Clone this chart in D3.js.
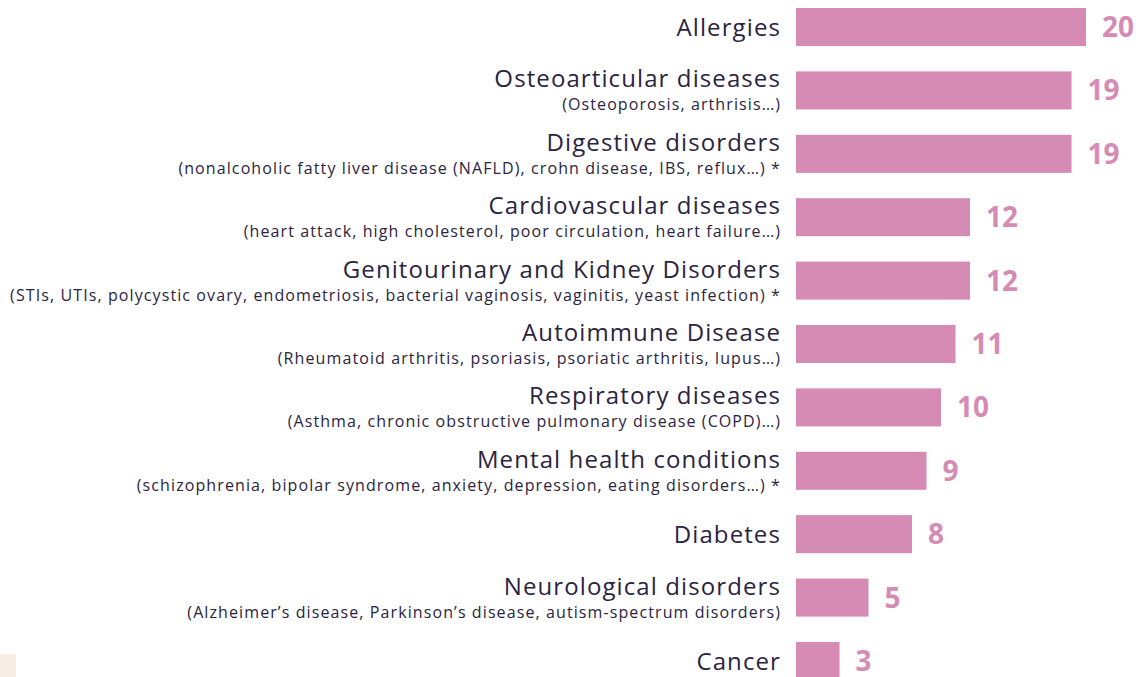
<!DOCTYPE html>
<html>
<head>
<meta charset="utf-8">
<script src="https://cdn.jsdelivr.net/npm/d3@7"></script>
<style>
  html, body { margin: 0; padding: 0; background: #ffffff; }
  svg { display: block; }
</style>
</head>
<body>
<svg id="chart" width="1140" height="677"></svg>
<script>
// Conditions and how many respondents mentioned each
const categories = [
  "Allergies",
  "Osteoarticular diseases",
  "Digestive disorders",
  "Cardiovascular diseases",
  "Genitourinary and Kidney Disorders",
  "Autoimmune Disease",
  "Respiratory diseases",
  "Mental health conditions",
  "Diabetes",
  "Neurological disorders",
  "Cancer"
];

const subtitles = [
  "",
  "(Osteoporosis, arthrisis…)",
  "(nonalcoholic fatty liver disease (NAFLD), crohn disease, IBS, reflux…) *",
  "(heart attack, high cholesterol, poor circulation, heart failure…)",
  "(STIs, UTIs, polycystic ovary, endometriosis, bacterial vaginosis, vaginitis, yeast infection) *",
  "(Rheumatoid arthritis, psoriasis, psoriatic arthritis, lupus…)",
  "(Asthma, chronic obstructive pulmonary disease (COPD)…)",
  "(schizophrenia, bipolar syndrome, anxiety, depression, eating disorders…) *",
  "",
  "(Alzheimer’s disease, Parkinson’s disease, autism-spectrum disorders)",
  ""
];

const values = [20, 19, 19, 12, 12, 11, 10, 9, 8, 5, 3];

const barColor = "#d68bb4";
const textColor = "#2b2441";
const fontFamily = "'Open Sans', 'Noto Sans', sans-serif";

const rows = categories.map((c, i) => ({ name: c, sub: subtitles[i], value: values[i] }));

const svg = d3.select("#chart");

const y = d3.scaleBand()
  .domain(categories)
  .range([8, 680])
  .paddingInner(0.4)
  .paddingOuter(0);

const x = d3.scaleLinear()
  .domain([0, 20])
  .range([796, 1086]);

// Small swatch in the lower left corner
svg.append("rect")
  .attr("x", 0)
  .attr("y", 654)
  .attr("width", 16)
  .attr("height", 23)
  .attr("fill", "#f6ece4");

const row = svg.selectAll("g.row")
  .data(rows)
  .join("g")
  .attr("class", "row");

row.append("rect")
  .attr("x", x(0))
  .attr("y", d => y(d.name))
  .attr("width", d => x(d.value) - x(0))
  .attr("height", y.bandwidth())
  .attr("fill", barColor);

row.append("text")
  .attr("x", d => x(d.value) + 16)
  .attr("y", d => y(d.name) + y.bandwidth() / 2)
  .attr("dy", "0.36em")
  .attr("font-family", fontFamily)
  .attr("font-weight", 700)
  .attr("font-size", 28)
  .attr("fill", barColor)
  .text(d => d.value);

// Category name, right-aligned against the bars (letter spacing trails the last glyph)
row.append("text")
  .attr("x", 781)
  .attr("y", d => y(d.name) + y.bandwidth() / 2 + (d.sub ? -3 : 9))
  .attr("text-anchor", "end")
  .attr("font-family", fontFamily)
  .attr("font-size", 24)
  .attr("letter-spacing", 1.1)
  .attr("fill", textColor)
  .text(d => d.name);

row.filter(d => d.sub)
  .append("text")
  .attr("x", 781)
  .attr("y", d => y(d.name) + y.bandwidth() / 2 + 20)
  .attr("text-anchor", "end")
  .attr("font-family", fontFamily)
  .attr("font-size", 16)
  .attr("letter-spacing", 1.1)
  .attr("fill", textColor)
  .text(d => d.sub);
</script>
</body>
</html>
